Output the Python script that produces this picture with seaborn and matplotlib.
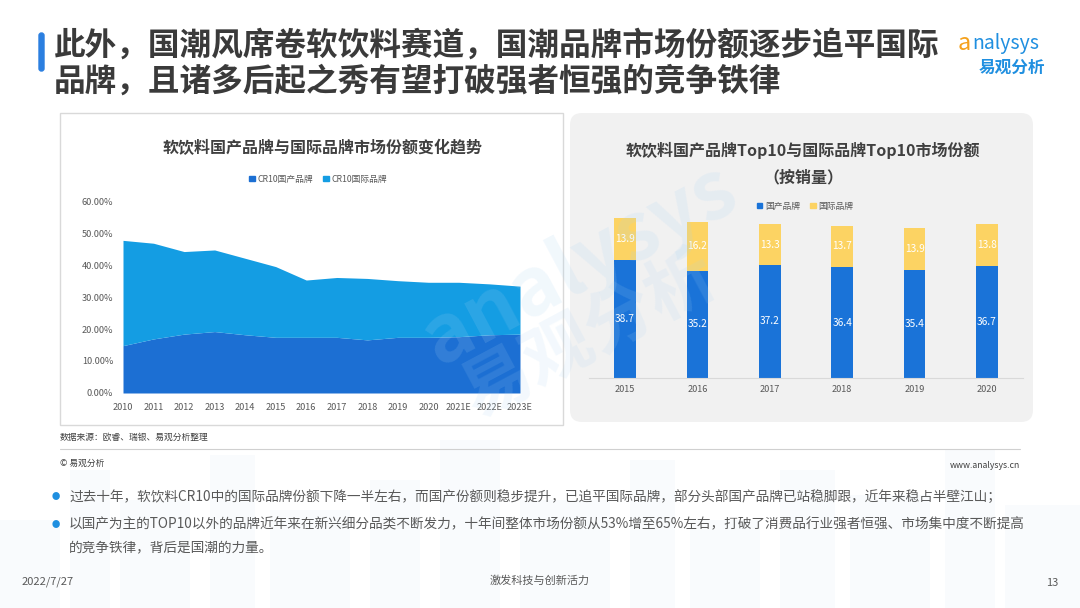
import numpy as np
import pandas as pd
import matplotlib
matplotlib.use("Agg")
import matplotlib.pyplot as plt
from matplotlib.patches import Patch, FancyBboxPatch, Rectangle
import seaborn as sns

sns.set_style("white")
plt.rcParams['font.family'] = ['Noto Sans CJK SC', 'DejaVu Sans']

# data - left chart (CR10 share, %)
years_area = ["2010", "2011", "2012", "2013", "2014", "2015", "2016", "2017",
              "2018", "2019", "2020", "2021E", "2022E", "2023E"]
cr10_domestic = [14.8, 16.9, 18.4, 19.2, 18.2, 17.4, 17.4, 17.4, 16.6, 17.4, 17.4, 17.6, 18.2, 18.4]
cr10_intl = [32.9, 29.9, 25.8, 25.5, 23.9, 22.1, 17.9, 18.7, 19.2, 17.7, 17.2, 17.0, 15.9, 15.0]
area_yticks = [0, 10, 20, 30, 40, 50, 60]

# data - right chart (Top10 share by volume)
years_bar = ["2015", "2016", "2017", "2018", "2019", "2020"]
top10_domestic = [38.7, 35.2, 37.2, 36.4, 35.4, 36.7]
top10_intl = [13.9, 16.2, 13.3, 13.7, 13.9, 13.8]

C_DOM = "#1c6fd3"
C_INTL = "#149de3"
C_BLUE = "#1a73d8"
C_YEL = "#fcd363"
GRAY = "#595959"

W, H = 1080, 608
fig = plt.figure(figsize=(W / 100, H / 100), dpi=100)
fig.patch.set_facecolor("white")


def box(x0, y0, x1, y1):
    return [x0 / W, 1 - y1 / H, (x1 - x0) / W, (y1 - y0) / H]


def fx(x):
    return x / W


def fy(y):
    return 1 - y / H


# background layer: skyline + panels
bg = fig.add_axes([0, 0, 1, 1], zorder=-5)
bg.set_xlim(0, W)
bg.set_ylim(H, 0)
bg.axis("off")
for x0, w, top in [(0, 60, 520), (70, 40, 470), (120, 70, 500), (210, 45, 455), (270, 80, 510),
                   (370, 50, 480), (440, 60, 440), (520, 90, 500), (630, 45, 460), (690, 70, 520),
                   (780, 55, 470), (850, 80, 495), (945, 50, 450), (1005, 75, 505)]:
    bg.add_patch(Rectangle((x0, top), w, H - top, color="#eef5fb", alpha=0.35, lw=0))
bg.add_patch(Rectangle((60, 113), 503, 312, facecolor="white", edgecolor="#d9d9d9", lw=1))
bg.add_patch(FancyBboxPatch((570, 113), 463, 309, boxstyle="round,pad=0,rounding_size=12",
                            facecolor="#f1f1f1", edgecolor="none"))
bg.add_patch(FancyBboxPatch((39, 33), 5, 38, boxstyle="round,pad=0,rounding_size=2.5",
                            color="#2b7fe0"))
bg.plot([60, 1020], [449, 449], color="#d0d0d0", lw=0.8)

# header
fig.text(fx(54), fy(46), "此外，国潮风席卷软饮料赛道，国潮品牌市场份额逐步追平国际",
         fontsize=22.8, weight="bold", color="#3a3a3a", va="center", ha="left")
fig.text(fx(54), fy(82), "品牌，且诸多后起之秀有望打破强者恒强的竞争铁律",
         fontsize=22.8, weight="bold", color="#3a3a3a", va="center", ha="left")
fig.text(fx(958), fy(44), "a", fontsize=17, color="#f5a11c", style="italic", va="center", ha="left")
fig.text(fx(972), fy(44), "nalysys", fontsize=14, color="#1f8fe0", style="italic", va="center", ha="left")
fig.text(fx(1012), fy(68), "易观分析", fontsize=12, weight="bold", color="#1f8fe0", va="center", ha="center")

# left chart
ax1 = fig.add_axes(box(123, 201, 520, 393), zorder=2)
x = np.arange(len(years_area))
ax1.stackplot(x, cr10_domestic, cr10_intl, colors=[C_DOM, C_INTL], lw=0)
ax1.set_xlim(0, len(years_area) - 1)
ax1.set_ylim(0, 60)
ax1.set_xticks(x)
ax1.set_xticklabels(years_area)
ax1.set_yticks(area_yticks)
ax1.set_yticklabels([f"{v:.2f}%" for v in area_yticks])
ax1.tick_params(length=0, labelsize=6.6, colors=GRAY, pad=7)
ax1.set_facecolor("none")
sns.despine(ax=ax1, left=True, bottom=True)
fig.text(fx(323), fy(148), "软饮料国产品牌与国际品牌市场份额变化趋势", fontsize=11.5, weight="bold",
         color="#404040", ha="center", va="center")
ax1.legend(handles=[Patch(color=C_DOM, label="CR10国产品牌"), Patch(color=C_INTL, label="CR10国际品牌")],
           loc="center", bbox_to_anchor=(fx(318), fy(179)), bbox_transform=fig.transFigure,
           ncol=2, frameon=False, fontsize=6.3, handlelength=0.6, handleheight=0.6,
           handletextpad=0.3, columnspacing=1.2, labelcolor=GRAY)

# right chart
df = pd.DataFrame({"year": years_bar, "dom": top10_domestic, "intl": top10_intl})
df["total"] = df["dom"] + df["intl"]
ax2 = fig.add_axes(box(588.8, 200, 1023.2, 378), zorder=2)
sns.barplot(data=df, x="year", y="total", color=C_YEL, width=0.3, saturation=1, linewidth=0, ax=ax2)
sns.barplot(data=df, x="year", y="dom", color=C_BLUE, width=0.3, saturation=1, linewidth=0, ax=ax2)
ax2.set_ylim(0, 58.5)
ax2.set_xlim(-0.5, len(years_bar) - 0.5)
ax2.set_facecolor("none")
ax2.set_xlabel("")
ax2.set_ylabel("")
ax2.set_yticks([])
ax2.tick_params(axis="x", length=0, labelsize=6.6, colors=GRAY, pad=5)
sns.despine(ax=ax2, left=True)
ax2.spines["bottom"].set_color("#d9d9d9")
for i, row in df.iterrows():
    ax2.text(i, row["dom"] / 2, f"{row['dom']:.1f}", ha="center", va="center", fontsize=7.3, color="white")
    ax2.text(i, row["dom"] + row["intl"] / 2, f"{row['intl']:.1f}", ha="center", va="center",
             fontsize=7.3, color="white")
fig.text(fx(803), fy(150), "软饮料国产品牌Top10与国际品牌Top10市场份额", fontsize=11.5, weight="bold",
         color="#404040", ha="center", va="center")
fig.text(fx(803), fy(177), "（按销量）", fontsize=11.5, weight="bold", color="#404040", ha="center", va="center")
ax2.legend(handles=[Patch(color=C_BLUE, label="国产品牌"), Patch(color=C_YEL, label="国际品牌")],
           loc="center", bbox_to_anchor=(fx(805), fy(206)), bbox_transform=fig.transFigure,
           ncol=2, frameon=False, fontsize=6.3, handlelength=0.6, handleheight=0.6,
           handletextpad=0.3, columnspacing=1.2, labelcolor=GRAY)

# watermark
fig.text(fx(580), fy(265), "analysys", fontsize=58, color="#a9d3f2", alpha=0.16, rotation=28,
         ha="center", va="center", style="italic", weight="bold", zorder=10)
fig.text(fx(590), fy(335), "易观分析", fontsize=50, color="#a9d3f2", alpha=0.14, rotation=28,
         ha="center", va="center", weight="bold", zorder=10)

# source and footer
fig.text(fx(60), fy(437), "数据来源：欧睿、瑞银、易观分析整理", fontsize=6.3, color="#404040", va="center")
fig.text(fx(60), fy(463), "© 易观分析", fontsize=6.3, color="#404040", va="center")
fig.text(fx(1020), fy(465), "www.analysys.cn", fontsize=6.3, color="#404040", va="center", ha="right")

bullets = [
    (497, "过去十年，软饮料CR10中的国际品牌份额下降一半左右，而国产份额则稳步提升，已追平国际品牌，部分头部国产品牌已站稳脚跟，近年来稳占半壁江山；"),
    (524, "以国产为主的TOP10以外的品牌近年来在新兴细分品类不断发力，十年间整体市场份额从53%增至65%左右，打破了消费品行业强者恒强、市场集中度不断提高"),
]
for yy, t in bullets:
    fig.text(fx(56), fy(yy), "●", fontsize=6, color="#1f8fe0", va="center", ha="center")
    fig.text(fx(69), fy(yy), t, fontsize=9.85, color="#595959", va="center", ha="left")
fig.text(fx(69), fy(547), "的竞争铁律，背后是国潮的力量。", fontsize=9.85, color="#595959", va="center", ha="left")

fig.text(fx(22), fy(582), "2022/7/27", fontsize=8, color="#595959", va="center")
fig.text(fx(540), fy(581), "激发科技与创新活力", fontsize=8, color="#595959", va="center", ha="center")
fig.text(fx(1052), fy(583), "13", fontsize=8, color="#595959", va="center", ha="center")

fig.savefig("out.png", dpi=100)
